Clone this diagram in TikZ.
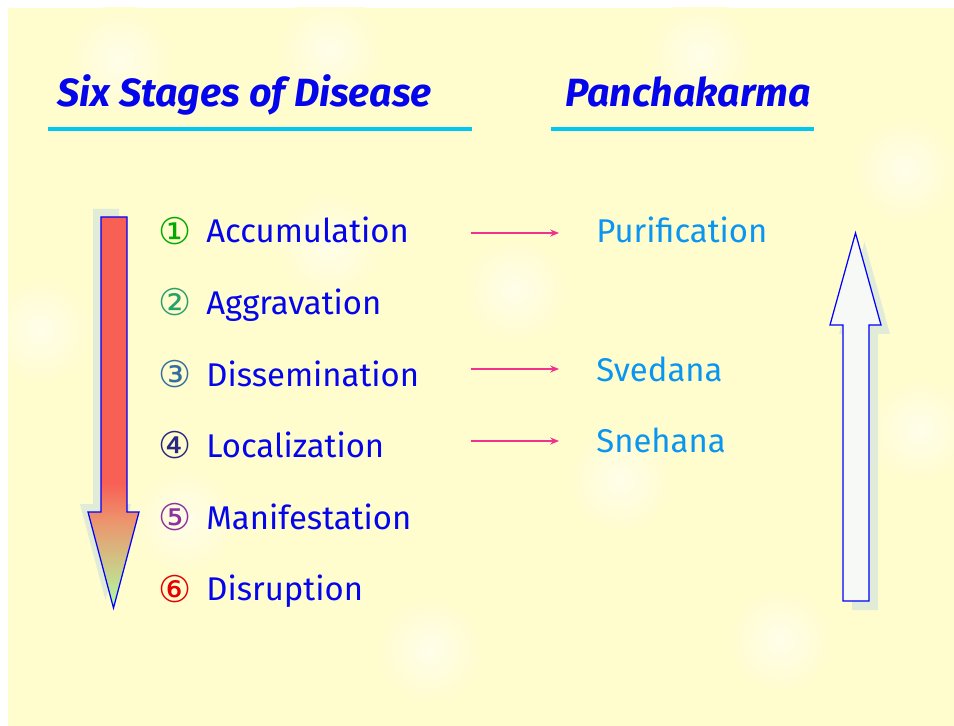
\documentclass[tikz,border=0pt]{standalone}
\usepackage{fontspec}
\setmainfont{Fira Sans}
\newfontfamily\circledfont{DejaVu Sans}
\usetikzlibrary{arrows.meta,positioning}

\definecolor{paper}{RGB}{255,252,205}
\definecolor{stageblue}{RGB}{5,5,235}
\definecolor{therapyblue}{RGB}{10,150,240}
\definecolor{rulecyan}{RGB}{0,200,240}
\definecolor{linkpink}{RGB}{240,50,140}
\definecolor{sorered}{RGB}{248,95,85}
\definecolor{midsalmon}{RGB}{236,150,110}
\definecolor{tipgreen}{RGB}{175,252,160}
\definecolor{shadowgrey}{RGB}{212,228,222}
\definecolor{palefill}{RGB}{246,249,246}
\definecolor{numA}{RGB}{0,170,0}
\definecolor{numB}{RGB}{40,160,110}
\definecolor{numC}{RGB}{50,110,160}
\definecolor{numD}{RGB}{40,40,130}
\definecolor{numE}{RGB}{140,50,160}
\definecolor{numF}{RGB}{230,0,0}

\pgfdeclareverticalshading{diseasefill}{100bp}{color(0bp)=(tipgreen); color(25bp)=(tipgreen); color(36bp)=(midsalmon); color(41bp)=(sorered); color(100bp)=(sorered)}

\begin{document}
\begin{tikzpicture}[x=0.02cm, y=-0.02cm,
    heading/.style={font=\fontsize{22.4}{26}\selectfont\bfseries\itshape, text=stageblue, inner sep=0pt},
    stage/.style={font=\fontsize{18.7}{22}\selectfont, text=stageblue, inner sep=0pt},
    therapy/.style={font=\fontsize{18.7}{22}\selectfont, text=therapyblue, inner sep=0pt},
    num/.style={font=\circledfont\fontsize{21}{25}\selectfont, inner sep=0pt},
    rule/.style={rulecyan, line width=1.9pt},
    link/.style={linkpink, line width=0.8pt, -{Stealth[length=5pt,width=4pt]}},
    bigarrow/.style={draw=blue, line width=0.7pt, line join=miter}]
    \useasboundingbox (0,0) rectangle (954,726);
    % background with soft light spots
    \fill[paper] (8,8) rectangle (954,726);
    \begin{scope}
        \clip (8,8) rectangle (954,726);
        \foreach \sx/\sy in {120/60, 330/245, 700/55, 905/170, 515/290, 620/480, 185/520, 430/650, 780/640, 920/430, 40/330, 330/50}
            \shade[inner color=white!55!paper, outer color=paper] (\sx,\sy) circle (55);
    \end{scope}

    % headings
    \node[heading, anchor=base west] (sixhead) at (57,107) {Six Stages of Disease};
    \node[heading, anchor=base west] (panchhead) at (565,107) {Panchakarma};
    \draw[rule] (48,129) -- (472,129);
    \draw[rule] (551,129) -- (814,129);

    % downward arrow
    \fill[shadowgrey, opacity=0.7] (93,209) -- (119,209) -- (119,504) -- (131,504) -- (105.5,600) -- (80,504) -- (93,504) -- cycle;
    \shade[shading=diseasefill, bigarrow] (101,217) -- (127,217) -- (127,512) -- (139,512) -- (113.5,608) -- (88,512) -- (101,512) -- cycle;

    % upward arrow
    \fill[shadowgrey, opacity=0.7] (852,610) -- (878,610) -- (878,334) -- (890,334) -- (864.5,242) -- (839,334) -- (852,334) -- cycle;
    \filldraw[bigarrow, fill=palefill] (843,601) -- (869,601) -- (869,325) -- (881,325) -- (855.5,233) -- (830,325) -- (843,325) -- cycle;

    % stages
    \foreach \mark/\lab/\col [count=\i] in {①/Accumulation/numA, ②/Aggravation/numB, ③/Dissemination/numC, ④/Localization/numD, ⑤/Manifestation/numE, ⑥/Disruption/numF} {
        \node[num, text=\col, anchor=base] (num\i) at (175.5,{244.5+71.5*(\i-1)}) {\mark};
        \node[stage, anchor=base west] (stage\i) at (206,{243+71.5*(\i-1)}) {\lab};
    }

    % therapies
    \node[therapy, anchor=base west] (purif) at (596,243) {Purification};
    \node[therapy, anchor=base west] (sved) at (596,381) {Svedana};
    \node[therapy, anchor=base west] (sneh) at (596,452) {Snehana};

    \coordinate (from1) at (471,233);
    \coordinate (from3) at (471,369);
    \coordinate (from4) at (471,441);
    \draw[link, shorten >=0.74cm] (from1) -- (from1 -| purif.west);
    \draw[link, shorten >=0.74cm] (from3) -- (from3 -| sved.west);
    \draw[link, shorten >=0.74cm] (from4) -- (from4 -| sneh.west);
\end{tikzpicture}
\end{document}
